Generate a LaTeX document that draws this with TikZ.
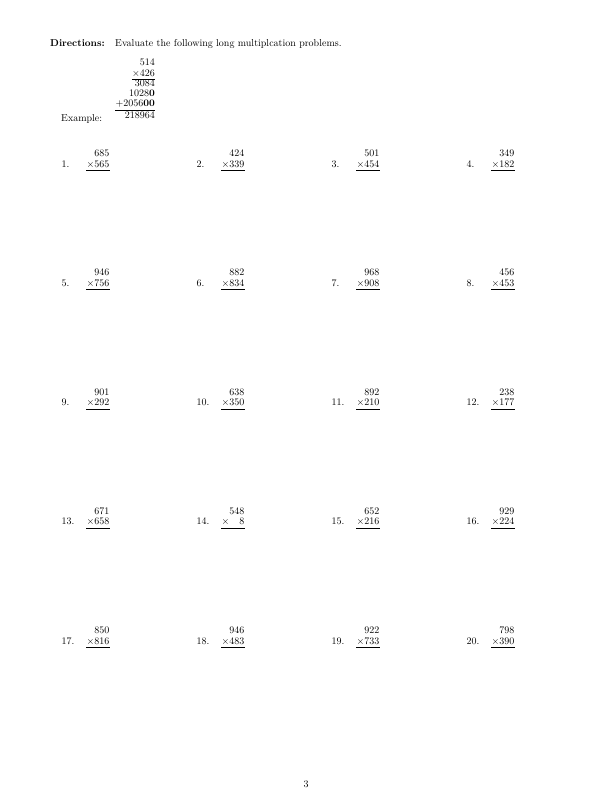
\documentclass[tikz,border=0pt]{standalone}
\usepackage{amsmath}
\usetikzlibrary{positioning}
\begin{document}
\begin{tikzpicture}[x=1pt,y=-1pt,
  num/.style={anchor=base east,inner sep=0pt},
  lbl/.style={anchor=base west,inner sep=0pt},
  bar/.style={line width=0.4pt}]
\useasboundingbox (0,0) rectangle (612,792);
% heading
\node[lbl] (dir) at (50,47) {\textbf{Directions:}};
\node[lbl] (task) at (115,47) {Evaluate the following long multiplcation problems.};
% worked example
\node[num] (ex1) at (155,65.5) {514};
\node[num] (ex2) at (155,76) {$\times$426};
\node[num] (ex3) at (155,86.5) {3084};
\node[num] (ex4) at (155,96.5) {1028\textbf{0}};
\node[num] (ex5) at (155,106.5) {+2056\textbf{00}};
\node[num] (ex6) at (155,118.5) {218964};
\node[lbl] (exlbl) at (61,121.5) {Example:};
\draw[bar] ([yshift=-2.2pt]ex2.south west) -- ([yshift=-2.2pt]ex2.south east);
\draw[bar] ([yshift=-2.2pt]ex5.south west) -- ([yshift=-2.2pt]ex5.south east);
% problems
\foreach \n/\a/\b [count=\i from 0] in {1/685/565,2/424/339,3/501/454,4/349/182,
    5/946/756,6/882/834,7/968/908,8/456/453,
    9/901/292,10/638/350,11/892/210,12/238/177,
    13/671/658,14/548/\hphantom{00}8,15/652/216,16/929/224,
    17/850/816,18/946/483,19/922/733,20/798/390}{
  \pgfmathsetmacro{\px}{135*mod(\i,4)}
  \pgfmathsetmacro{\py}{119.3*floor(\i/4)}
  \node[lbl] (p\n) at (61.5+\px,167+\py) {\n.};
  \node[num] (t\n) at (109.5+\px,156.5+\py) {\a};
  \node[num] (b\n) at (109.5+\px,167+\py) {$\times$\b};
  \draw[bar] ([yshift=-2.2pt]b\n.south west) -- ([yshift=-2.2pt]b\n.south east);
}
% page number
\node[inner sep=0pt,anchor=base] (page) at (306,787) {3};
\end{tikzpicture}
\end{document}
